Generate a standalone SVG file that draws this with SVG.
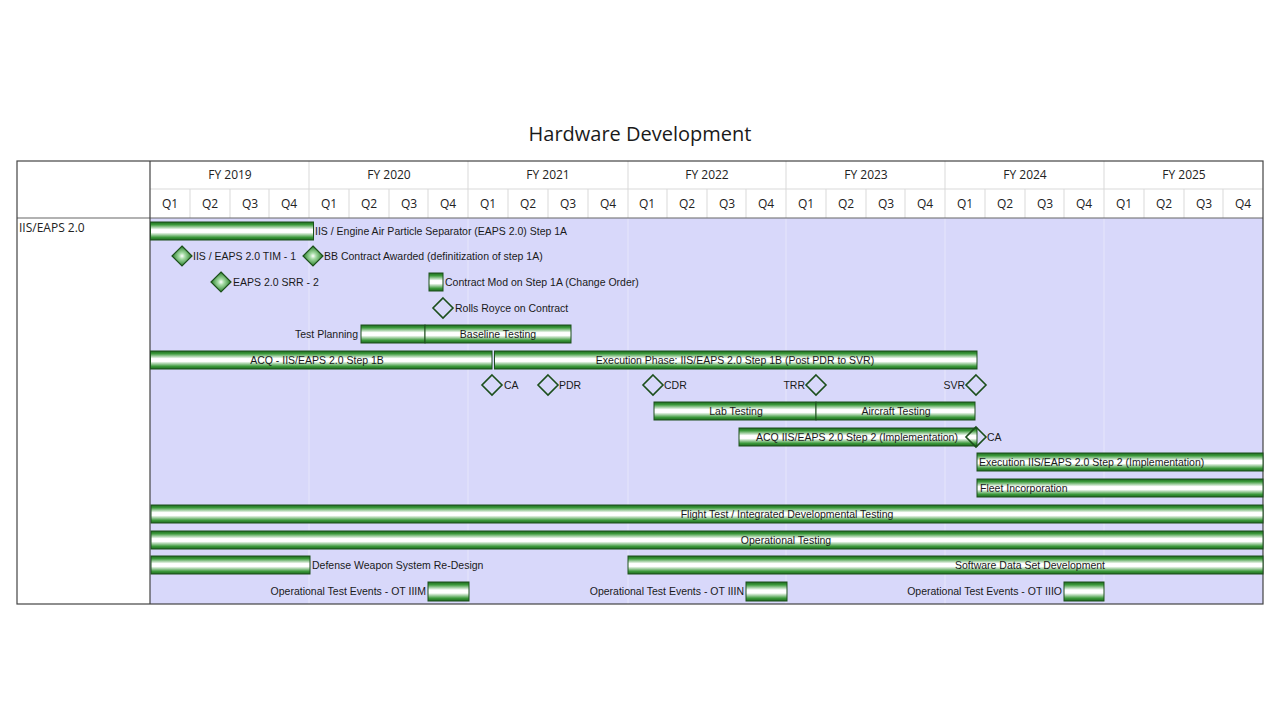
<svg xmlns="http://www.w3.org/2000/svg" width="1280" height="720" viewBox="0 0 1280 720">
<defs>
<linearGradient id="bar" x1="0" y1="0" x2="0" y2="1">
<stop offset="0" stop-color="#1d6a1d"/>
<stop offset="0.15" stop-color="#3c9a3c"/>
<stop offset="0.42" stop-color="#ffffff"/>
<stop offset="0.58" stop-color="#ffffff"/>
<stop offset="0.85" stop-color="#3c9a3c"/>
<stop offset="1" stop-color="#1d6a1d"/>
</linearGradient>
<radialGradient id="dia" cx="0.5" cy="0.5" r="0.5">
<stop offset="0" stop-color="#ffffff"/>
<stop offset="0.3" stop-color="#a6dba6"/>
<stop offset="1" stop-color="#267f26"/>
</radialGradient>
<style>
.t{font-family:"Liberation Sans",Arial,sans-serif;font-size:10.5px;fill:#1a1a1a}
.h{font-family:"Open Sans","Liberation Sans",sans-serif;font-size:12px;fill:#222}
.b{fill:url(#bar);stroke:#1c4f1c;stroke-width:1}
.fd{fill:url(#dia);stroke:#1c4f1c;stroke-width:1.2}
.hd{fill:none;stroke:#1c4f1c;stroke-width:1.6}
.gl{stroke:#d9d9d9;stroke-width:1}
.bg{stroke:#e6e6fb;stroke-width:1}
</style>
</defs>
<rect width="1280" height="720" fill="#ffffff"/>
<text x="640" y="141" text-anchor="middle" style="font-family:'Open Sans','Liberation Sans',sans-serif;font-size:20px;fill:#1a1a1a">Hardware Development</text>

<g id="grid">
<rect x="150" y="218" width="1113" height="386" fill="#d8d8fa"/>
<g class="bg">
<line x1="309" y1="218" x2="309" y2="604"/><line x1="468" y1="218" x2="468" y2="604"/><line x1="628" y1="218" x2="628" y2="604"/><line x1="786" y1="218" x2="786" y2="604"/><line x1="945" y1="218" x2="945" y2="604"/><line x1="1104" y1="218" x2="1104" y2="604"/>
</g>
<g class="gl">
<line x1="150" y1="189" x2="1263" y2="189"/>
<line x1="309" y1="161" x2="309" y2="218"/><line x1="468" y1="161" x2="468" y2="218"/><line x1="628" y1="161" x2="628" y2="218"/><line x1="786" y1="161" x2="786" y2="218"/><line x1="945" y1="161" x2="945" y2="218"/><line x1="1104" y1="161" x2="1104" y2="218"/>
<line x1="190" y1="189" x2="190" y2="218"/><line x1="230" y1="189" x2="230" y2="218"/><line x1="269" y1="189" x2="269" y2="218"/>
<line x1="349" y1="189" x2="349" y2="218"/><line x1="389" y1="189" x2="389" y2="218"/><line x1="428" y1="189" x2="428" y2="218"/>
<line x1="508" y1="189" x2="508" y2="218"/><line x1="548" y1="189" x2="548" y2="218"/><line x1="588" y1="189" x2="588" y2="218"/>
<line x1="667" y1="189" x2="667" y2="218"/><line x1="707" y1="189" x2="707" y2="218"/><line x1="746" y1="189" x2="746" y2="218"/>
<line x1="826" y1="189" x2="826" y2="218"/><line x1="866" y1="189" x2="866" y2="218"/><line x1="905" y1="189" x2="905" y2="218"/>
<line x1="985" y1="189" x2="985" y2="218"/><line x1="1025" y1="189" x2="1025" y2="218"/><line x1="1064" y1="189" x2="1064" y2="218"/>
<line x1="1144" y1="189" x2="1144" y2="218"/><line x1="1184" y1="189" x2="1184" y2="218"/><line x1="1223" y1="189" x2="1223" y2="218"/>
</g>
<line x1="17" y1="218" x2="1263" y2="218" stroke="#666" stroke-width="1.2"/>
<line x1="150" y1="161" x2="150" y2="604" stroke="#444" stroke-width="1.2"/>
<rect x="17" y="161" width="1246" height="443" fill="none" stroke="#444" stroke-width="1.2"/>
<g class="h" text-anchor="middle">
<text x="230" y="179">FY 2019</text><text x="389" y="179">FY 2020</text><text x="548" y="179">FY 2021</text><text x="707" y="179">FY 2022</text><text x="866" y="179">FY 2023</text><text x="1025" y="179">FY 2024</text><text x="1184" y="179">FY 2025</text>
<text x="170" y="208">Q1</text><text x="210" y="208">Q2</text><text x="250" y="208">Q3</text><text x="289" y="208">Q4</text>
<text x="329" y="208">Q1</text><text x="369" y="208">Q2</text><text x="409" y="208">Q3</text><text x="448" y="208">Q4</text>
<text x="488" y="208">Q1</text><text x="528" y="208">Q2</text><text x="568" y="208">Q3</text><text x="608" y="208">Q4</text>
<text x="647" y="208">Q1</text><text x="687" y="208">Q2</text><text x="727" y="208">Q3</text><text x="766" y="208">Q4</text>
<text x="806" y="208">Q1</text><text x="846" y="208">Q2</text><text x="886" y="208">Q3</text><text x="925" y="208">Q4</text>
<text x="965" y="208">Q1</text><text x="1005" y="208">Q2</text><text x="1045" y="208">Q3</text><text x="1084" y="208">Q4</text>
<text x="1124" y="208">Q1</text><text x="1164" y="208">Q2</text><text x="1204" y="208">Q3</text><text x="1243" y="208">Q4</text>
</g>
<text x="19" y="232" class="h">IIS/EAPS 2.0</text>
</g>

<g id="r0"><rect class="b" x="150.5" y="222" width="163" height="18"/><text class="t" x="315" y="234.5">IIS / Engine Air Particle Separator (EAPS 2.0) Step 1A</text></g>
<g id="r1a"><path class="fd" d="M182 246 L192 256 L182 266 L172 256 Z"/><text class="t" x="193" y="260">IIS / EAPS 2.0 TIM - 1</text></g>
<g id="r1b"><path class="fd" d="M313 246 L323 256 L313 266 L303 256 Z"/><text class="t" x="324" y="260">BB Contract Awarded (definitization of step 1A)</text></g>
<g id="r2a"><path class="fd" d="M221 272 L231 282 L221 292 L211 282 Z"/><text class="t" x="233" y="286">EAPS 2.0 SRR - 2</text></g>
<g id="r2b"><rect class="b" x="429" y="273" width="14" height="18"/><text class="t" x="445" y="286">Contract Mod on Step 1A (Change Order)</text></g>
<g id="r3"><path class="hd" d="M443 298 L453 308 L443 318 L433 308 Z"/><text class="t" x="455" y="312">Rolls Royce on Contract</text></g>
<g id="r4a"><text class="t" x="358" y="338" text-anchor="end">Test Planning</text><rect class="b" x="361" y="325" width="64" height="18"/></g>
<g id="r4b"><rect class="b" x="425" y="325" width="146" height="18"/><text class="t" x="498" y="338" text-anchor="middle">Baseline Testing</text></g>
<g id="r5a"><rect class="b" x="150.5" y="351" width="341.5" height="18"/><text class="t" x="317" y="364" text-anchor="middle">ACQ - IIS/EAPS 2.0 Step 1B</text></g>
<g id="r5b"><rect class="b" x="494.5" y="351" width="482.5" height="18"/><text class="t" x="735" y="364" text-anchor="middle">Execution Phase: IIS/EAPS 2.0 Step 1B (Post PDR to SVR)</text></g>
<g id="r6a"><path class="hd" d="M492 375 L502 385 L492 395 L482 385 Z"/><text class="t" x="504" y="389">CA</text></g>
<g id="r6b"><path class="hd" d="M548 375 L558 385 L548 395 L538 385 Z"/><text class="t" x="559" y="389">PDR</text></g>
<g id="r6c"><path class="hd" d="M653 375 L663 385 L653 395 L643 385 Z"/><text class="t" x="664" y="389">CDR</text></g>
<g id="r6d"><path class="hd" d="M816 375 L826 385 L816 395 L806 385 Z"/><text class="t" x="805" y="389" text-anchor="end">TRR</text></g>
<g id="r6e"><path class="hd" d="M976 375 L986 385 L976 395 L966 385 Z"/><text class="t" x="965" y="389" text-anchor="end">SVR</text></g>
<g id="r7a"><rect class="b" x="654" y="402" width="162" height="18"/><text class="t" x="736" y="415" text-anchor="middle">Lab Testing</text></g>
<g id="r7b"><rect class="b" x="816" y="402" width="159" height="18"/><text class="t" x="896" y="415" text-anchor="middle">Aircraft Testing</text></g>
<g id="r8"><rect class="b" x="739" y="428" width="238" height="18"/><text class="t" x="857" y="441" text-anchor="middle">ACQ IIS/EAPS 2.0 Step 2 (Implementation)</text><path class="hd" d="M976 427 L986 437 L976 447 L966 437 Z"/><text class="t" x="987" y="441">CA</text></g>
<g id="r9"><rect class="b" x="977" y="453" width="286" height="18"/><text class="t" x="979" y="466">Execution IIS/EAPS 2.0 Step 2 (Implementation)</text></g>
<g id="r10"><rect class="b" x="977" y="479" width="286" height="18"/><text class="t" x="980" y="492">Fleet Incorporation</text></g>
<g id="r11"><rect class="b" x="151" y="505" width="1112" height="18"/><text class="t" x="787" y="518" text-anchor="middle">Flight Test / Integrated Developmental Testing</text></g>
<g id="r12"><rect class="b" x="151" y="531" width="1112" height="18"/><text class="t" x="786" y="544" text-anchor="middle">Operational Testing</text></g>
<g id="r13a"><rect class="b" x="151" y="556" width="159" height="18"/><text class="t" x="312" y="569">Defense Weapon System Re-Design</text></g>
<g id="r13b"><rect class="b" x="628" y="556" width="635" height="18"/><text class="t" x="1030" y="569" text-anchor="middle">Software Data Set Development</text></g>
<g id="r14a"><text class="t" x="426" y="595" text-anchor="end">Operational Test Events - OT IIIM</text><rect class="b" x="428" y="582" width="41" height="19"/></g>
<g id="r14b"><text class="t" x="744" y="595" text-anchor="end">Operational Test Events - OT IIIN</text><rect class="b" x="746" y="582" width="41" height="19"/></g>
<g id="r14c"><text class="t" x="1062" y="595" text-anchor="end">Operational Test Events - OT IIIO</text><rect class="b" x="1064" y="582" width="40" height="19"/></g>
<g id="connectors"></g>
</svg>
